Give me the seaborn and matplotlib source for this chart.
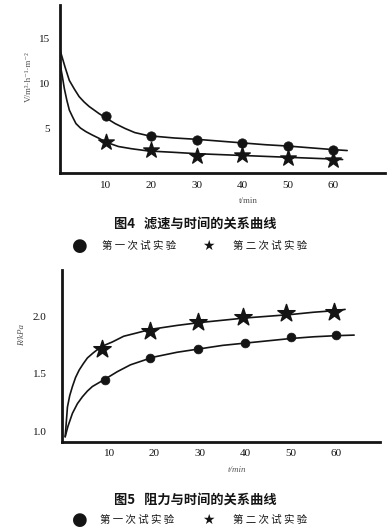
import numpy as np
import pandas as pd
import matplotlib.pyplot as plt
import seaborn as sns

# fig 4: filtration rate vs time
t_pts = [10, 20, 30, 40, 50, 60]
v_run1 = [6.3, 4.1, 3.7, 3.35, 3.0, 2.6]
v_run2 = [3.4, 2.6, 1.9, 1.95, 1.7, 1.4]

# hand-drawn fit curves
v_curve1_t = [0, 1.1, 2.05, 3.2, 4.2, 5.3, 6.4, 8.6, 10.5, 12.1, 14.3, 16.4, 19.4,
              25, 30, 35, 40, 45, 50, 55, 60, 63]
v_curve1 = [13.7, 11.8, 10.3, 9.3, 8.5, 7.9, 7.4, 6.6, 6.0, 5.5, 4.95, 4.5, 4.15,
            3.9, 3.75, 3.55, 3.35, 3.15, 3.0, 2.8, 2.6, 2.5]
v_curve2_t = [0, 0.5, 0.95, 1.5, 2.05, 2.8, 3.5, 4.5, 5.7, 7.0, 8.6, 10.0, 12.8, 15.7, 19.4,
              25, 30, 35, 40, 45, 50, 55, 60, 62]
v_curve2 = [12.2, 10.8, 9.4, 8.1, 7.0, 6.2, 5.5, 5.0, 4.6, 4.25, 3.85, 3.45, 2.95, 2.7, 2.45,
            2.3, 2.15, 2.05, 1.95, 1.85, 1.75, 1.65, 1.55, 1.5]

# fig 5: resistance vs time
r_t1 = [9, 19, 29.5, 40, 50, 60]
r_run1 = [1.45, 1.64, 1.72, 1.77, 1.825, 1.845]
r_t2 = [8.5, 19, 29.5, 39.5, 49, 59.5]
r_run2 = [1.72, 1.875, 1.955, 2.0, 2.03, 2.04]

r_curve1_t = [0.3, 0.9, 1.9, 3.0, 4.1, 5.2, 6.3, 8.9, 11.8, 14.7, 17.7, 19.5,
              25, 30, 35, 40, 45, 50, 55, 60, 64]
r_curve1 = [0.95, 1.04, 1.155, 1.24, 1.30, 1.35, 1.39, 1.45, 1.52, 1.58, 1.62, 1.645,
            1.69, 1.72, 1.75, 1.77, 1.79, 1.81, 1.825, 1.835, 1.84]
r_curve2_t = [0.3, 0.8, 1.3, 1.9, 2.6, 3.4, 4.3, 5.2, 6.5, 7.8, 9.2, 10.7, 13.2, 16.2, 19.1,
              25, 30, 35, 40, 45, 50, 55, 60, 62]
r_curve2 = [0.95, 1.21, 1.31, 1.39, 1.47, 1.535, 1.59, 1.64, 1.685, 1.725, 1.755, 1.78, 1.83,
            1.86, 1.89, 1.925, 1.95, 1.97, 1.99, 2.005, 2.02, 2.04, 2.055, 2.065]

x_ticks = [10, 20, 30, 40, 50, 60]
v_ticks = [5, 10, 15]
r_ticks = [1.0, 1.5, 2.0]

sns.set_style('white')
plt.rcParams['font.family'] = ['Liberation Serif', 'Noto Sans CJK SC', 'DejaVu Sans']
ink = '#141414'
cjk = ['Noto Sans CJK SC', 'DejaVu Sans']

fig = plt.figure(figsize=(3.92, 5.29), dpi=100)
W, H = 392, 529

def px_axes(l, t, r, b):
    return fig.add_axes([l / W, 1 - b / H, (r - l) / W, (b - t) / H])

def style(ax, ypad, xpad):
    sns.despine(ax=ax)
    for s in ['left', 'bottom']:
        ax.spines[s].set_linewidth(2.0)
        ax.spines[s].set_color(ink)
    ax.tick_params(direction='out', length=3, width=1.2, colors=ink, labelsize=8)
    ax.tick_params(axis='y', pad=ypad)
    ax.tick_params(axis='x', pad=xpad)
    ax.set_xlabel('')
    ax.set_ylabel('')
    ax.set_facecolor('white')

# ---- top chart
ax1 = px_axes(60, 5, 385, 173)
sns.lineplot(x=v_curve1_t, y=v_curve1, ax=ax1, color=ink, lw=1.2, sort=False)
sns.lineplot(x=v_curve2_t, y=v_curve2, ax=ax1, color=ink, lw=1.2, sort=False)
sns.scatterplot(x=t_pts, y=v_run1, ax=ax1, marker='o', s=45, color=ink, edgecolor=ink)
sns.scatterplot(x=t_pts, y=v_run2, ax=ax1, marker='*', s=140, color=ink, edgecolor=ink)
ax1.set_xlim(0, 71.3)
ax1.set_ylim(0, 18.7)
ax1.set_xticks(x_ticks)
ax1.set_yticks(v_ticks)
style(ax1, 4, 3)

fig.text(29 / W, 1 - 77 / H, 'V/m³·h⁻¹·m⁻²', rotation=90, ha='center', va='center',
         fontsize=6.5, color='#555555')
fig.text(248 / W, 1 - 201 / H, 't/min', ha='center', va='center', fontsize=6.5,
         color='#555555')
fig.text(195 / W, 1 - 224 / H, '图4   滤速与时间的关系曲线', ha='center', va='center',
         fontsize=9.5, family=cjk, color=ink, fontweight='bold')
fig.text(80 / W, 1 - 246 / H, '●', ha='center', va='center', fontsize=13,
         family='DejaVu Sans', color=ink)
fig.text(102 / W, 1 - 246 / H, '第 一 次 试 实 验', ha='left', va='center',
         fontsize=7.5, family=cjk, color=ink)
fig.text(208 / W, 1 - 246 / H, '★', ha='center', va='center', fontsize=10,
         family='DejaVu Sans', color=ink)
fig.text(233 / W, 1 - 246 / H, '第 二 次 试 实 验', ha='left', va='center',
         fontsize=7.5, family=cjk, color=ink)

# ---- bottom chart
ax2 = px_axes(62, 270, 380, 442)
sns.lineplot(x=r_curve1_t, y=r_curve1, ax=ax2, color=ink, lw=1.2, sort=False)
sns.lineplot(x=r_curve2_t, y=r_curve2, ax=ax2, color=ink, lw=1.2, sort=False)
sns.scatterplot(x=r_t1, y=r_run1, ax=ax2, marker='o', s=40, color=ink, edgecolor=ink)
sns.scatterplot(x=r_t2, y=r_run2, ax=ax2, marker='*', s=170, color=ink, edgecolor=ink)
ax2.set_xlim(-0.4, 69.7)
ax2.set_ylim(0.904, 2.41)
ax2.set_xticks(x_ticks)
ax2.set_yticks(r_ticks)
ax2.set_yticklabels(['1.0', '1.5', '2.0'])
style(ax2, 8, 2)

fig.text(22 / W, 1 - 335 / H, 'R/kPa', rotation=90, ha='center', va='center',
         fontsize=6.5, color='#555555', style='italic')
fig.text(237 / W, 1 - 470 / H, 't/min', ha='center', va='center', fontsize=6.5,
         color='#555555', style='italic')
fig.text(195 / W, 1 - 500 / H, '图5   阻力与时间的关系曲线', ha='center', va='center',
         fontsize=9.5, family=cjk, color=ink, fontweight='bold')
fig.text(80 / W, 1 - 520 / H, '●', ha='center', va='center', fontsize=13,
         family='DejaVu Sans', color=ink)
fig.text(100 / W, 1 - 520 / H, '第 一 次 试 实 验', ha='left', va='center',
         fontsize=7.5, family=cjk, color=ink)
fig.text(208 / W, 1 - 520 / H, '★', ha='center', va='center', fontsize=10,
         family='DejaVu Sans', color=ink)
fig.text(233 / W, 1 - 520 / H, '第 二 次 试 实 验', ha='left', va='center',
         fontsize=7.5, family=cjk, color=ink)

fig.savefig('out.png', dpi=100, facecolor='white')
